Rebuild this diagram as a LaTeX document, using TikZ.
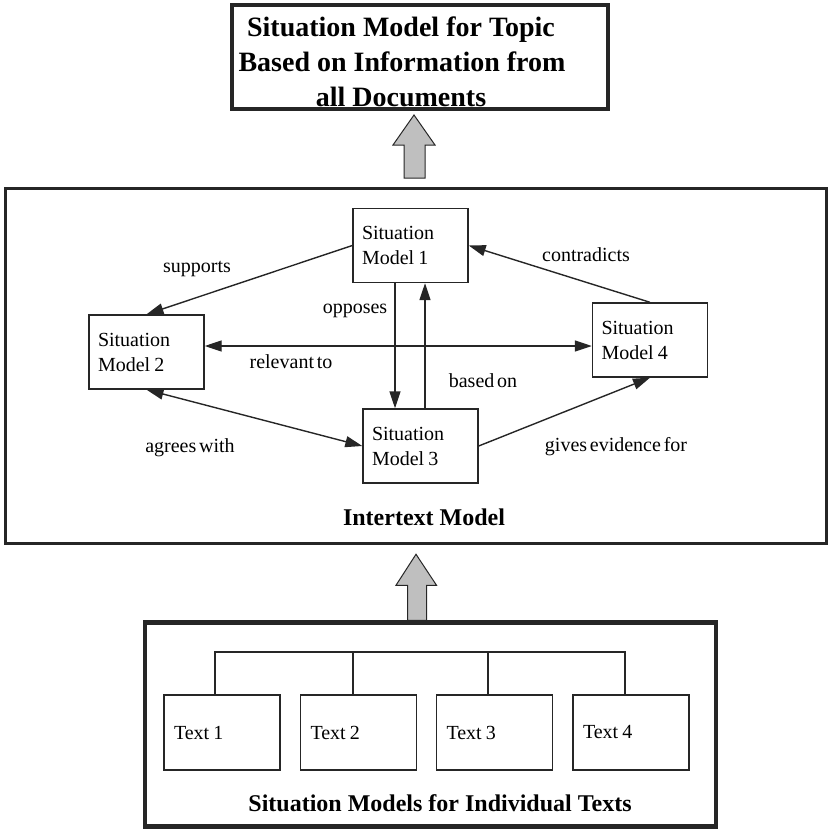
\documentclass[tikz,border=0pt]{standalone}
\usepackage{fontspec}
\setmainfont{Liberation Serif}
\newfontfamily\tightserif{Liberation Serif}[WordSpace=0.55]
\usetikzlibrary{arrows.meta,calc}
% number after a word, set close as in the printed boxes
\newcommand{\numlabel}[2]{#1\kern-2.5pt\ #2}
\begin{document}
\begin{tikzpicture}[x=1pt,y=-1pt,
  ink/.style={draw=black!85},
  smbox/.style={draw=black!85,line width=1.4pt,minimum width=115pt,minimum height=74pt,
    text width=97pt,inner xsep=9pt,inner ysep=0pt,align=left,font=\tightserif\fontsize{20}{25}\selectfont},
  textbox/.style={draw=black!85,line width=1.4pt,minimum width=116pt,minimum height=75pt,
    text width=96pt,inner xsep=10pt,inner ysep=0pt,align=left,font=\tightserif\fontsize{20}{25}\selectfont},
  lbl/.style={anchor=base,inner sep=0pt,font=\tightserif\fontsize{20}{24}\selectfont},
  heading/.style={anchor=base,inner sep=0pt,font=\fontsize{24}{28}\selectfont\bfseries},
  titleline/.style={anchor=base,inner sep=0pt,font=\fontsize{28}{32}\selectfont\bfseries},
  rel/.style={draw=black!85,line width=1.4pt,-{Triangle[length=17pt,width=11pt]}},
  relboth/.style={draw=black!85,line width=1.4pt,{Triangle[length=17pt,width=11pt]}-{Triangle[length=17pt,width=11pt]}},
  blockarrow/.style={draw=black!85,line width=1pt,fill=gray!50},
  tree/.style={draw=black!85,line width=1.4pt}
]
\useasboundingbox (0,0) rectangle (828,832);

% topic-level situation model
\node[ink,line width=4.5pt,minimum width=376pt,minimum height=104pt] (topic) at (420,57) {};
\node[titleline] (title1) at (401,37) {Situation Model for Topic};
\node[titleline] (title2) at (402,72) {Based on Information from};
\node[titleline] (title3) at (401,107) {all Documents};

% intertext model frame
\node[ink,line width=3pt,minimum width=821pt,minimum height=355pt] (inter) at (415.5,366) {};
\node[heading] (interlabel) at (424,525) {Intertext Model};

% situation models inside the intertext model
\node[smbox] (sm1) at (410.5,245.5) {Situation\\\numlabel{Model}{1}};
\node[smbox] (sm2) at (146.5,352) {Situation\\\numlabel{Model}{2}};
\node[smbox] (sm4) at (650,340) {Situation\\\numlabel{Model}{4}};
\node[smbox] (sm3) at (420.5,446) {Situation\\\numlabel{Model}{3}};

\coordinate (xop) at (395,0);
\coordinate (xbase) at (425,0);
\coordinate (yrel) at (0,346);

\draw[rel] (sm1.west) -- (sm2.north);
\draw[rel] (sm4.north) -- (sm1.east);
\draw[relboth] (sm2.east |- yrel) -- (sm4.west |- yrel);
\draw[rel] (sm1.south -| xop) -- (sm3.north -| xop);
\draw[rel] (sm3.north -| xbase) -- (sm1.south -| xbase);
\draw[relboth] (sm2.south) -- (sm3.west);
\draw[rel] (sm3.east) -- (sm4.south);

\node[lbl] (lsupports) at (197,272) {supports};
\node[lbl] (lcontra) at (586,261) {contradicts};
\node[lbl] (lopposes) at (355,313) {opposes};
\node[lbl] (lrelevant) at (291,368) {relevant to};
\node[lbl] (lbased) at (483,387) {based on};
\node[lbl] (lagrees) at (190,452) {agrees with};
\node[lbl] (lgives) at (616,451) {gives evidence for};

% situation models for the individual texts
\node[ink,line width=4.5pt,minimum width=571pt,minimum height=204pt] (texts) at (430.5,724.5) {};
\node[heading] (textslabel) at (440,811) {Situation Models for Individual Texts};

\node[textbox] (t1) at (222,732.5) {\numlabel{Text}{1}};
\node[textbox] (t2) at (358.5,732.5) {\numlabel{Text}{2}};
\node[textbox] (t3) at (494.5,732.5) {\numlabel{Text}{3}};
\node[textbox] (t4) at (631,732.5) {\numlabel{Text}{4}};

\coordinate (bus) at (0,652);
\path (t1.north) ++(-7,0) coordinate (d1);
\path (t2.north) ++(-5.5,0) coordinate (d2);
\path (t3.north) ++(-6.5,0) coordinate (d3);
\path (t4.north) ++(-6,0) coordinate (d4);
\draw[tree] (d1) -- (d1 |- bus) -- (d4 |- bus) -- (d4);
\draw[tree] (d2) -- (d2 |- bus);
\draw[tree] (d3) -- (d3 |- bus);

% broad upward arrows between the levels
\draw[blockarrow] (texts.north -| 416,0) ++(0,-66) -- ++(20.5,31) -- ++(-10,0) -- ++(0,35)
  -- ++(-19,0) -- ++(0,-35) -- ++(-11.5,0) -- cycle;
\draw[blockarrow] (414,115) -- (435,145) -- (425,145) -- (425,178) -- (404,178) -- (404,145) -- (393,145) -- cycle;
\end{tikzpicture}
\end{document}
